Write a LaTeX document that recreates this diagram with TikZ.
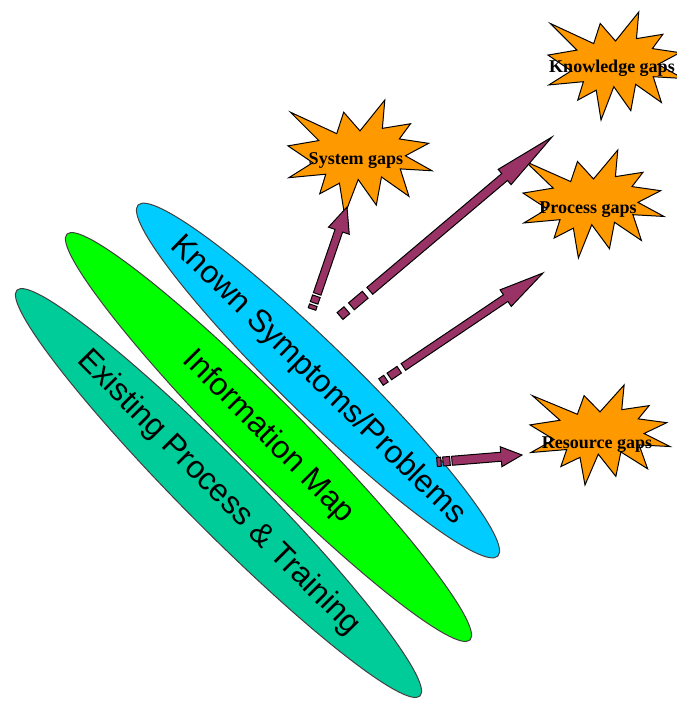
\documentclass[tikz,border=0pt]{standalone}
\usepackage{fontspec}
\setmainfont{Liberation Serif}
\newfontfamily\labelsans{Liberation Sans}
\usetikzlibrary{shapes.geometric,calc}

\definecolor{layerteal}{HTML}{00CC99}
\definecolor{layerlime}{HTML}{00FF00}
\definecolor{layersky}{HTML}{00CCFF}
\definecolor{burstfill}{HTML}{FF9900}
\definecolor{arrowplum}{HTML}{993366}

\tikzset{
  layer/.style={ellipse, draw=black!75, line width=0.75pt, inner sep=0pt, outer sep=0pt,
                minimum height=53pt},
  layertext/.style={font=\labelsans\fontsize{23.8}{27}\selectfont, inner sep=0pt},
  burst/.style={draw=black, line width=0.75pt, fill=burstfill, line join=miter},
  bursttext/.style={font=\bfseries\fontsize{13.5}{15}\selectfont, inner sep=0pt},
  arrowbody/.style={draw=black, line width=0.75pt, fill=arrowplum, line join=miter},
}

% explosion outline in a 216 x 216 box, scaled to width #3 and height #4 at (#1,#2)
\newcommand\gapburst[4]{%
  \begin{scope}[shift={(#1,#2)}, xscale=#3/216, yscale=#4/216]
    \draw[burst] (108,58) -- (83.52,22.95) -- (73.12,63.2) -- (3.7,22.95) -- (46.27,76.17)
      -- (0,86.15) -- (37.22,117.75) -- (1.35,145.87) -- (56.67,139.37) -- (47.62,176.17)
      -- (77.15,156.27) -- (84.85,216) -- (105.32,149.35) -- (132.47,197.37) -- (140.2,144.57)
      -- (181.45,180.95) -- (168.37,129.42) -- (216,132.9) -- (176.07,104.75) -- (210.97,81.37)
      -- (167.02,73.15) -- (183.8,44.57) -- (141.55,53.25) -- (145.22,0) -- cycle;
  \end{scope}}

% striped block arrow from coordinate #1 to coordinate #2
% #3 shaft half width, #4 head half width, #5 head length,
% #6 first stripe, #7 gap, #8 second stripe, #9 gap before the shaft
\newcommand\gaparrow[9]{%
  \path let \p1=($(#2)-(#1)$) in \pgfextra{%
    \pgfmathsetmacro\tmpang{atan2(\y1,\x1)}\xdef\arrang{\tmpang}%
    \pgfmathsetmacro\tmplen{veclen(\x1,\y1)/0.75}\xdef\arrlen{\tmplen}};
  \begin{scope}[shift={(#1)}, rotate=\arrang]
    \pgfmathsetmacro\ba{#6+#7}%
    \pgfmathsetmacro\bb{#6+#7+#8}%
    \pgfmathsetmacro\bc{#6+#7+#8+#9}%
    \pgfmathsetmacro\hb{\arrlen-#5}%
    \draw[arrowbody] (0,-#3) rectangle (#6,#3);
    \draw[arrowbody] (\ba,-#3) rectangle (\bb,#3);
    \draw[arrowbody] (\bc,-#3) -- (\hb,-#3) -- (\hb,-#4) -- (\arrlen,0)
      -- (\hb,#4) -- (\hb,#3) -- (\bc,#3) -- cycle;
  \end{scope}}

\begin{document}
\begin{tikzpicture}[x=0.75pt, y=-0.75pt]
  \useasboundingbox (0,0) rectangle (677,701);
  \fill[white] (0,0) rectangle (677,701);

  % three stacked layers
  \node[layer, fill=layerteal, minimum width=429pt, rotate=-45.2] (existing) at (218.5,493) {};
  \node[layertext, rotate=-45.2] (existingtext) at (existing.center) {Existing Process \& Training};

  \node[layer, fill=layerlime, minimum width=429pt, rotate=-45.2] (infomap) at (268.5,437) {};
  \node[layertext, rotate=-45.2] (infomaptext) at (infomap.center) {Information Map};

  \node[layer, fill=layersky, minimum width=377pt, rotate=-44.3] (known) at (318,380.5) {};
  \node[layertext, rotate=-44.3] (knowntext) at (known.center) {Known Symptoms/Problems};

  % gap bursts
  \gapburst{288}{100}{144}{115}
  \node[bursttext] (system) at (356,161) {System gaps};

  \gapburst{548}{12}{135}{108}
  \node[bursttext] (knowledge) at (612,68) {Knowledge gaps};

  \gapburst{523}{150}{141}{108}
  \node[bursttext] (process) at (588,210) {Process gaps};

  \gapburst{530}{385}{140}{100}
  \node[bursttext] (resource) at (597,445) {Resource gaps};

  % arrows from the problems layer towards the gaps
  \coordinate (tosystemtail) at (312,309);
  \coordinate (tosystemtip) at (347,207);
  \coordinate (toknowtail) at (340,316);
  \coordinate (toknowtip) at (552,137);
  \coordinate (toprocesstail) at (381,382);
  \coordinate (toprocesstip) at (543,273);
  \coordinate (toresourcetail) at (437,462);
  \coordinate (toresourcetip) at (522,455);

  \gaparrow{tosystemtail}{tosystemtip}{4}{11}{25}{4}{2.5}{7}{2.5}
  \gaparrow{toknowtail}{toknowtip}{4.5}{10}{62}{9}{6}{18}{6}
  \gaparrow{toprocesstail}{toprocesstip}{4}{10}{45}{6}{4}{12}{5}
  \gaparrow{toresourcetail}{toresourcetip}{4.5}{10}{21}{4}{2}{7}{2}
\end{tikzpicture}
\end{document}
